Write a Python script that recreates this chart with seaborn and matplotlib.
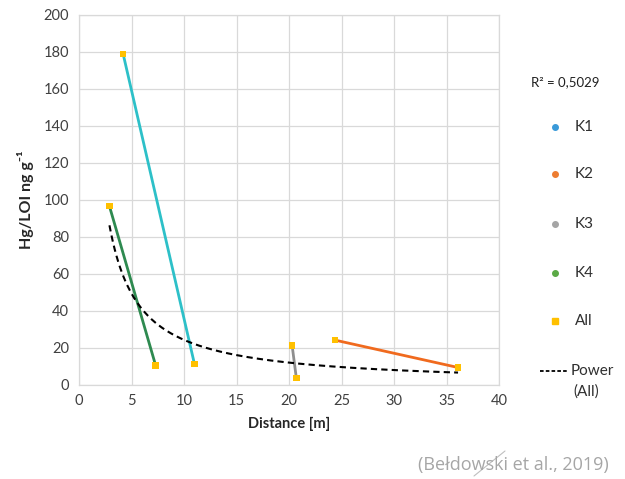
import numpy as np
import pandas as pd
import matplotlib
matplotlib.use("Agg")
import matplotlib.pyplot as plt
from matplotlib.lines import Line2D
import seaborn as sns

# ---- data ----
series = ["K1", "K1", "K2", "K2", "K3", "K3", "K4", "K4"]
distance = [4.2, 11.0, 24.4, 36.1, 20.3, 20.7, 2.9, 7.3]
hg_loi = [179.0, 11.0, 24.0, 9.2, 21.0, 3.4, 96.5, 10.3]
x_ticks = [0, 5, 10, 15, 20, 25, 30, 35, 40]
y_ticks = [0, 20, 40, 60, 80, 100, 120, 140, 160, 180, 200]

line_colors = {"K1": "#2DC0C8", "K2": "#F06A1E", "K3": "#8E8E8E", "K4": "#2E8A50"}
legend_colors = {"K1": "#3A9AD9", "K2": "#ED7D31", "K3": "#A5A5A5", "K4": "#5BAA46"}
all_color = "#FFC000"

df = pd.DataFrame({"Series": series, "Distance": distance, "HgLOI": hg_loi})

sns.set_style("white")
plt.rcParams["font.family"] = ["Lato", "DejaVu Sans"]

fig = plt.figure(figsize=(6.25, 4.79), dpi=100)
ax = fig.add_axes([79 / 625, 1 - 384.5 / 479, 420 / 625, 369.5 / 479])

sns.lineplot(data=df, x="Distance", y="HgLOI", hue="Series", units="Series",
             estimator=None, sort=False, palette=line_colors, linewidth=2.0,
             legend=False, ax=ax)
sns.scatterplot(data=df, x="Distance", y="HgLOI", marker="s", s=22,
                color=all_color, edgecolor="none", zorder=5, legend=False, ax=ax)

# power trendline fitted to all points
lx = np.log(np.array(distance))
ly = np.log(np.array(hg_loi))
b, lna = np.polyfit(lx, ly, 1)
xs = np.linspace(min(distance), max(distance), 200)
ys = np.exp(lna) * xs ** b
ax.plot(xs, ys, color="black", linestyle=(0, (3, 2)), linewidth=1.5, zorder=4)

ax.set_xlim(0, 40)
ax.set_ylim(0, 200)
ax.set_xticks(x_ticks)
ax.set_yticks(y_ticks)
ax.grid(True, color="#D9D9D9", linewidth=0.9)
ax.set_axisbelow(True)
for sp in ax.spines.values():
    sp.set_color("#D9D9D9")
    sp.set_linewidth(0.9)
ax.tick_params(length=0, labelsize=10.5, labelcolor="#404040", pad=7)
ax.set_xlabel("Distance [m]", fontsize=10.5, fontweight="bold", labelpad=6)
ax.set_ylabel("Hg/LOI ng g⁻¹", fontsize=11.5, fontweight="bold", labelpad=7)

# legend (manual, right side)
def fx(px):
    return px / 625
def fy(py):
    return 1 - py / 479

fig.text(fx(531), fy(82), "R² = 0,5029", fontsize=9.5, color="#202020", va="center")
entries = [("K1", 127), ("K2", 174), ("K3", 224), ("K4", 273)]
for name, py in entries:
    fig.add_artist(Line2D([fx(555)], [fy(py)], marker="o", markersize=4,
                          color=legend_colors[name], linestyle="none",
                          transform=fig.transFigure))
    fig.text(fx(575), fy(py), name, fontsize=11, color="#303030", va="center")
fig.add_artist(Line2D([fx(555)], [fy(321)], marker="s", markersize=4.5,
                      color=all_color, linestyle="none", transform=fig.transFigure))
fig.text(fx(575), fy(321), "All", fontsize=11, color="#303030", va="center")
fig.add_artist(Line2D([fx(540), fx(568)], [fy(371), fy(371)], color="black",
                      linestyle=(0, (2, 1.2)), linewidth=1.3, transform=fig.transFigure))
fig.text(fx(571), fy(371), "Power", fontsize=11, color="#303030", va="center")
fig.text(fx(573), fy(392), "(All)", fontsize=11, color="#303030", va="center")

# citation
fig.text(fx(418), fy(465), "(Bełdowski et al., 2019)", fontsize=13, color="#A6A6A6",
         va="center", family=["Open Sans", "DejaVu Sans"])
fig.add_artist(Line2D([fx(474), fx(505)], [fy(476), fy(451)], color="#BFBFBF",
                      linewidth=0.8, transform=fig.transFigure))

fig.savefig("out.png", dpi=100)
